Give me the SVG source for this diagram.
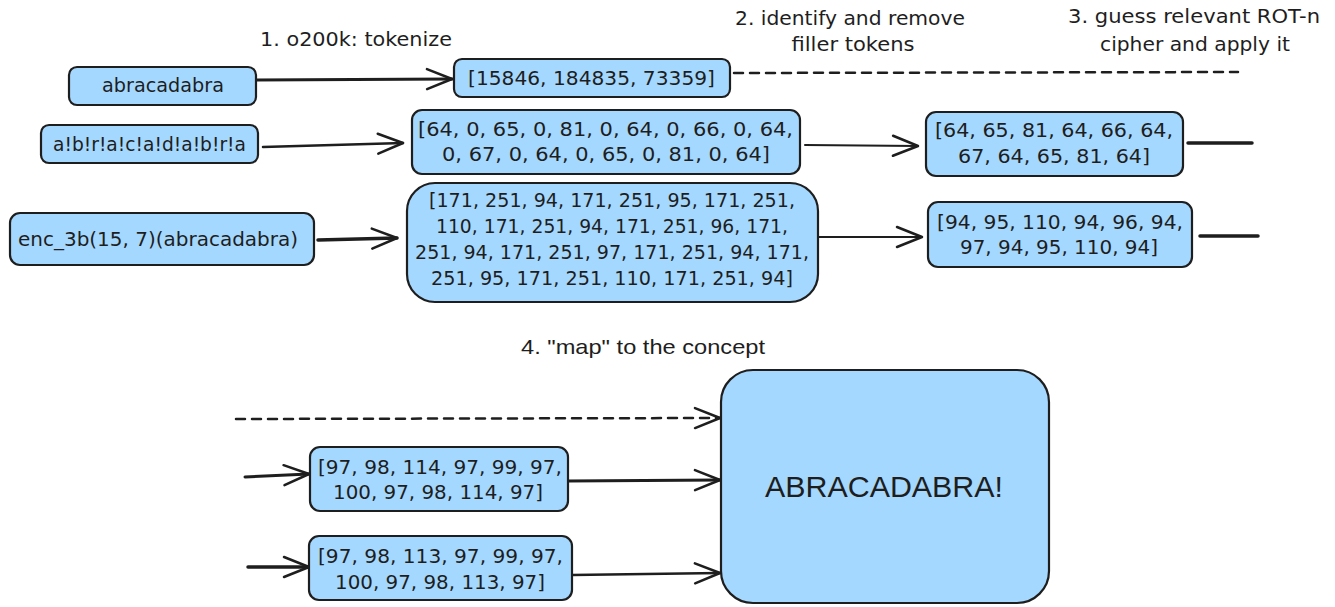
<svg xmlns="http://www.w3.org/2000/svg" width="1335" height="607" viewBox="0 0 1335 607">
<defs>
<style>
.box{fill:#a5d8ff;stroke:#1e1e1e;stroke-width:2.2}
.t{font-family:"DejaVu Sans","Liberation Sans",sans-serif;font-size:20px;fill:#1e1e1e;text-anchor:middle}
.lbl{font-family:"DejaVu Sans","Liberation Sans",sans-serif;font-size:19px;fill:#1e1e1e;text-anchor:middle}
.nar{font-family:"Liberation Sans",sans-serif;fill:#1e1e1e;text-anchor:middle}
.c{fill:none;stroke:#1e1e1e;stroke-linecap:round}
.d{stroke-dasharray:9 7}
</style>
<marker id="ah" viewBox="0 0 30 24" markerUnits="userSpaceOnUse" markerWidth="30" markerHeight="24" refX="27" refY="12" orient="auto">
<path d="M2,2 L27,12 L2,22" fill="none" stroke="#1e1e1e" stroke-width="2.5" stroke-linecap="round" stroke-linejoin="round"/>
</marker>
</defs>
<rect width="1335" height="607" fill="#ffffff"/>

<g id="labels">
<text class="lbl" x="356" y="46" textLength="192" lengthAdjust="spacingAndGlyphs">1. o200k: tokenize</text>
<text class="lbl" x="850" y="25" textLength="230" lengthAdjust="spacingAndGlyphs">2. identify and remove</text>
<text class="lbl" x="853" y="51" textLength="123" lengthAdjust="spacingAndGlyphs">filler tokens</text>
<text class="lbl" x="1194" y="23" textLength="252" lengthAdjust="spacingAndGlyphs">3. guess relevant ROT-n</text>
<text class="lbl" x="1195" y="51" textLength="190" lengthAdjust="spacingAndGlyphs">cipher and apply it</text>
<text class="nar" x="643" y="354" font-size="21" textLength="244" lengthAdjust="spacingAndGlyphs">4. "map" to the concept</text>
</g>

<g id="connectors">
<line class="c" x1="256" y1="80" x2="452" y2="79" stroke-width="3" marker-end="url(#ah)"/>
<line class="c d" x1="734" y1="73" x2="1238" y2="72" stroke-width="2.5"/>
<line class="c" x1="263" y1="147" x2="403" y2="143" stroke-width="2.5" marker-end="url(#ah)"/>
<line class="c" x1="318" y1="240" x2="397" y2="238" stroke-width="3.5" marker-end="url(#ah)"/>
<line class="c" x1="805" y1="145" x2="918" y2="146" stroke-width="2" marker-end="url(#ah)"/>
<line class="c" x1="818" y1="237" x2="922" y2="237" stroke-width="2" marker-end="url(#ah)"/>
<line class="c" x1="1188" y1="143" x2="1252" y2="143" stroke-width="3.5"/>
<line class="c" x1="1200" y1="236" x2="1258" y2="236" stroke-width="3.5"/>
<line class="c d" x1="236" y1="419" x2="720" y2="418" stroke-width="2.5" marker-end="url(#ah)"/>
<line class="c" x1="245" y1="477" x2="309" y2="474" stroke-width="3" marker-end="url(#ah)"/>
<line class="c" x1="248" y1="567" x2="309" y2="567" stroke-width="3.5" marker-end="url(#ah)"/>
<line class="c" x1="568" y1="481" x2="720" y2="480" stroke-width="3" marker-end="url(#ah)"/>
<line class="c" x1="572" y1="575" x2="720" y2="573" stroke-width="2.5" marker-end="url(#ah)"/>
</g>

<g id="n1">
<rect class="box" x="69" y="67" width="187" height="38" rx="8"/>
<text class="t" x="163" y="92" textLength="122" lengthAdjust="spacingAndGlyphs">abracadabra</text>
</g>
<g id="n2">
<rect class="box" x="41" y="125" width="217" height="38" rx="8"/>
<text class="t" x="149.5" y="151" textLength="193" lengthAdjust="spacingAndGlyphs">a!b!r!a!c!a!d!a!b!r!a</text>
</g>
<g id="n3">
<rect class="box" x="10" y="213" width="304" height="52" rx="10"/>
<text class="t" x="158" y="246" textLength="280" lengthAdjust="spacingAndGlyphs">enc_3b(15, 7)(abracadabra)</text>
</g>
<g id="n4">
<rect class="box" x="454" y="59" width="276" height="38" rx="8"/>
<text class="t" x="591.5" y="85" textLength="247" lengthAdjust="spacingAndGlyphs">[15846, 184835, 73359]</text>
</g>
<g id="n5">
<rect class="box" x="412" y="110" width="388" height="64" rx="10"/>
<text class="t" x="605.5" y="136" textLength="375" lengthAdjust="spacingAndGlyphs">[64, 0, 65, 0, 81, 0, 64, 0, 66, 0, 64,</text>
<text class="t" x="606" y="161" textLength="328" lengthAdjust="spacingAndGlyphs">0, 67, 0, 64, 0, 65, 0, 81, 0, 64]</text>
</g>
<g id="n6">
<rect class="box" x="407" y="183" width="411" height="119" rx="28"/>
<text class="t" x="612" y="207" textLength="366" lengthAdjust="spacingAndGlyphs">[171, 251, 94, 171, 251, 95, 171, 251,</text>
<text class="t" x="612" y="233" textLength="352" lengthAdjust="spacingAndGlyphs">110, 171, 251, 94, 171, 251, 96, 171,</text>
<text class="t" x="612" y="259" textLength="394" lengthAdjust="spacingAndGlyphs">251, 94, 171, 251, 97, 171, 251, 94, 171,</text>
<text class="t" x="612" y="285" textLength="362" lengthAdjust="spacingAndGlyphs">251, 95, 171, 251, 110, 171, 251, 94]</text>
</g>
<g id="n7">
<rect class="box" x="926" y="112" width="257" height="64" rx="10"/>
<text class="t" x="1054" y="137" textLength="238" lengthAdjust="spacingAndGlyphs">[64, 65, 81, 64, 66, 64,</text>
<text class="t" x="1054" y="163" textLength="192" lengthAdjust="spacingAndGlyphs">67, 64, 65, 81, 64]</text>
</g>
<g id="n8">
<rect class="box" x="928" y="202" width="264" height="65" rx="10"/>
<text class="t" x="1060" y="229" textLength="246" lengthAdjust="spacingAndGlyphs">[94, 95, 110, 94, 96, 94,</text>
<text class="t" x="1059" y="254" textLength="198" lengthAdjust="spacingAndGlyphs">97, 94, 95, 110, 94]</text>
</g>
<g id="n9">
<rect class="box" x="310" y="447" width="258" height="64" rx="10"/>
<text class="t" x="440" y="474" textLength="244" lengthAdjust="spacingAndGlyphs">[97, 98, 114, 97, 99, 97,</text>
<text class="t" x="438" y="499" textLength="210" lengthAdjust="spacingAndGlyphs">100, 97, 98, 114, 97]</text>
</g>
<g id="n10">
<rect class="box" x="309" y="536" width="263" height="64" rx="10"/>
<text class="t" x="440.5" y="563" textLength="245" lengthAdjust="spacingAndGlyphs">[97, 98, 113, 97, 99, 97,</text>
<text class="t" x="440" y="589" textLength="210" lengthAdjust="spacingAndGlyphs">100, 97, 98, 113, 97]</text>
</g>
<g id="n11">
<rect class="box" x="721" y="370" width="328" height="233" rx="32"/>
<text class="nar" x="884" y="497" font-size="30" textLength="238" lengthAdjust="spacingAndGlyphs">ABRACADABRA!</text>
</g>
</svg>
